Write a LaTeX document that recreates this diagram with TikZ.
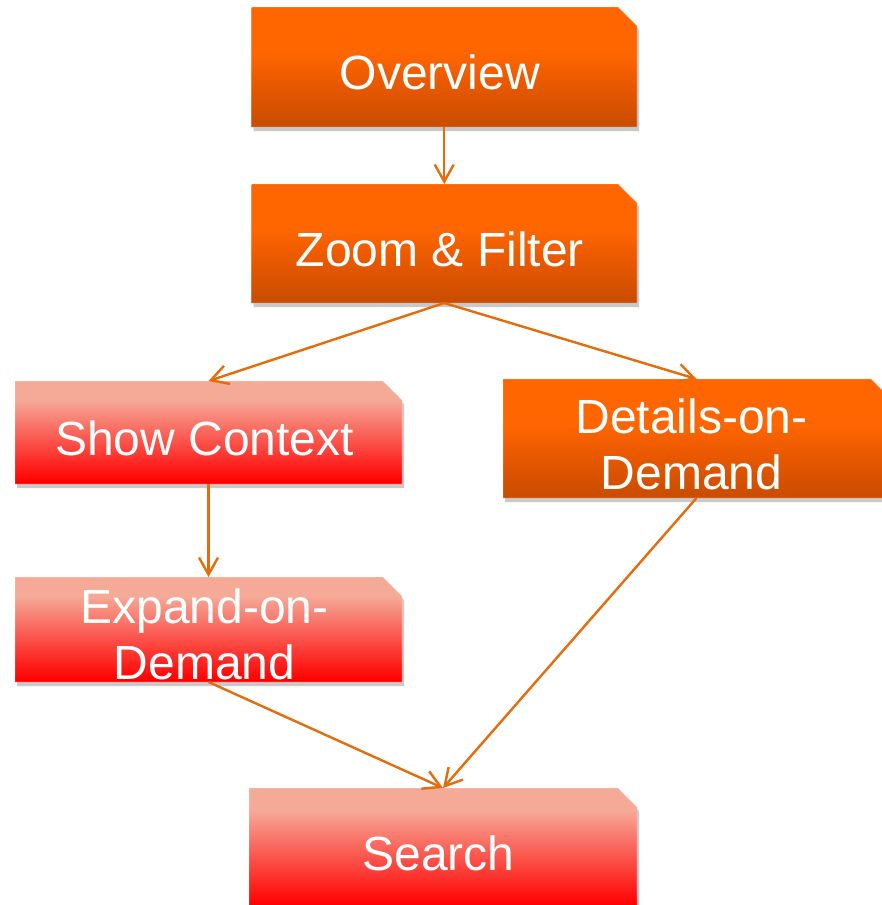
\documentclass[tikz,border=0pt]{standalone}
\usepackage{fontspec}
\setmainfont{Liberation Sans}
\usetikzlibrary{arrows.meta,shadows}
\definecolor{ortop}{RGB}{255,102,0}
\definecolor{ormid}{RGB}{236,90,0}
\definecolor{orbot}{RGB}{200,76,0}
\definecolor{salmon}{RGB}{245,170,152}
\definecolor{rdmid}{RGB}{250,100,90}
\definecolor{rdbot}{RGB}{255,0,0}
\definecolor{arr}{RGB}{228,108,10}
\pgfdeclareverticalshading{orgrad}{100bp}{color(0bp)=(orbot); color(25bp)=(orbot); color(45bp)=(ormid); color(56bp)=(ortop); color(75bp)=(ortop); color(100bp)=(ortop)}
\pgfdeclareverticalshading{redgrad}{100bp}{color(0bp)=(rdbot); color(26bp)=(rdbot); color(50bp)=(rdmid); color(66bp)=(salmon); color(75bp)=(salmon); color(100bp)=(salmon)}
\begin{document}
\begin{tikzpicture}[x=1pt,y=-1pt,
  boxnode/.style={rectangle, inner sep=0pt, outer sep=0pt},
  shadowed/.style={drop shadow={shadow xshift=2pt, shadow yshift=-4pt, opacity=0.3, fill=black!70}},
  orbox/.style={shading=orgrad, draw=white, draw opacity=0.25, line width=0.8pt, shadowed},
  redbox/.style={shading=redgrad, draw=white, draw opacity=0.25, line width=0.8pt, shadowed},
  lbl/.style={text=white, font=\fontsize{48}{55.5}\selectfont, align=center, inner sep=0pt},
  conn/.style={draw=arr, line width=2.4pt, -{Straight Barb[length=17pt,width=19pt]}}
]
\useasboundingbox (0,0) rectangle (882,905);
\clip (0,0) rectangle (882,905);

% Overview
\node[boxnode, minimum width=385.5pt, minimum height=120pt] (ov) at (444.25,67) {};
\path[orbox] (ov.south west) -- (ov.north west) -- ([xshift=-19pt]ov.north east) -- ([yshift=-19pt]ov.north east) -- (ov.south east) -- cycle;
\node[lbl] (ovt) at ([xshift=-4.5pt,yshift=-5.5pt]ov.center) {Overview};

% Zoom & Filter
\node[boxnode, minimum width=385.5pt, minimum height=119pt] (zf) at (444.25,243.5) {};
\path[orbox] (zf.south west) -- (zf.north west) -- ([xshift=-19pt]zf.north east) -- ([yshift=-19pt]zf.north east) -- (zf.south east) -- cycle;
\node[lbl] (zft) at ([xshift=-4.5pt,yshift=-5.5pt]zf.center) {Zoom \& Filter};

% Show Context
\node[boxnode, minimum width=387pt, minimum height=103pt] (sc) at (208.5,432.5) {};
\path[redbox] (sc.south west) -- (sc.north west) -- ([xshift=-19pt]sc.north east) -- ([yshift=-19pt]sc.north east) -- (sc.south east) -- cycle;
\node[lbl] (sct) at ([xshift=-4pt,yshift=-5.5pt]sc.center) {Show Context};

% Details-on-Demand
\node[boxnode, minimum width=387pt, minimum height=119pt] (dd) at (696.5,438.5) {};
\path[orbox] (dd.south west) -- (dd.north west) -- ([xshift=-19pt]dd.north east) -- ([yshift=-19pt]dd.north east) -- (dd.south east) -- cycle;
\node[lbl] (ddt) at ([xshift=-5pt,yshift=-6pt]dd.center) {Details-on-\\Demand};

% Expand-on-Demand
\node[boxnode, minimum width=387pt, minimum height=105pt] (ex) at (208.5,629.5) {};
\path[redbox] (ex.south west) -- (ex.north west) -- ([xshift=-19pt]ex.north east) -- ([yshift=-19pt]ex.north east) -- (ex.south east) -- cycle;
\node[lbl] (ext) at ([xshift=-4pt,yshift=-5pt]ex.center) {Expand-on-\\Demand};

% Search
\node[boxnode, minimum width=388pt, minimum height=120pt] (se) at (443,848) {};
\path[redbox] (se.south west) -- (se.north west) -- ([xshift=-19pt]se.north east) -- ([yshift=-19pt]se.north east) -- (se.south east) -- cycle;
\node[lbl] (set) at ([xshift=-4.5pt,yshift=-5.5pt]se.center) {Search};

% connectors
\draw[conn] (ov.south) -- (zf.north);
\draw[conn] (zf.south) -- (sc.north);
\draw[conn] (zf.south) -- (dd.north);
\draw[conn] (sc.south) -- (ex.north);
\draw[conn] (ex.south) -- (se.north);
\draw[conn] (dd.south) -- (se.north);
\end{tikzpicture}
\end{document}
